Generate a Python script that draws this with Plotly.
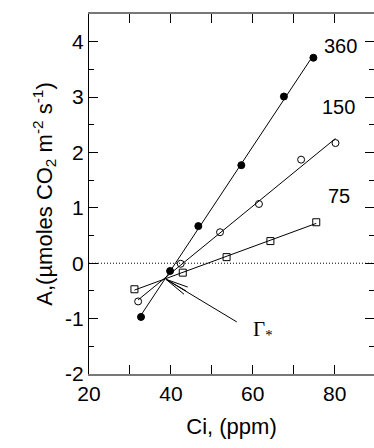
import numpy as np
import plotly.graph_objects as go

# Data
ci_360 = [32.7, 39.8, 46.7, 57.2, 67.6, 74.8]
a_360 = [-0.97, -0.14, 0.67, 1.77, 3.01, 3.71]
ci_150 = [32.0, 42.4, 52.0, 61.5, 71.8, 80.2]
a_150 = [-0.69, -0.01, 0.56, 1.07, 1.87, 2.17]
ci_75 = [31.1, 42.9, 53.6, 64.3, 75.5]
a_75 = [-0.47, -0.17, 0.11, 0.40, 0.74]

series_labels = ["360", "150", "75"]
label_x = [81.5, 81.0, 81.0]
label_y = [3.93, 2.82, 1.22]

x_tickvals = [20, 40, 60, 80]
x_ticktext = ["20", "40", "60", "80"]
y_tickvals = [-2, -1, 0, 1, 2, 3, 4]
y_ticktext = ["-2", "-1", "0", "1", "2", "3", "4"]

# Gamma* pointer (data coords)
gamma_origin = (38.8, -0.29)
gamma_ends_x = [56.1, 44.1, 43.7, 43.2]
gamma_ends_y = [-1.06, -0.43, -0.50, -0.56]

fig = go.Figure()

series = [
    (ci_360, a_360, dict(symbol="circle", color="black", size=7, line=dict(color="black", width=1))),
    (ci_150, a_150, dict(symbol="circle-open", color="black", size=7, line=dict(color="black", width=1))),
    (ci_75, a_75, dict(symbol="square-open", color="black", size=7, line=dict(color="black", width=1))),
]

for xs, ys, mk in series:
    p = np.polyfit(xs, ys, 1)
    xl = np.array([min(xs), max(xs)])
    fig.add_trace(go.Scatter(x=xl, y=np.polyval(p, xl), mode="lines",
                             line=dict(color="black", width=1), showlegend=False, hoverinfo="skip"))
    fig.add_trace(go.Scatter(x=xs, y=ys, mode="markers", marker=mk, showlegend=False))

# zero dotted line
fig.add_shape(type="line", xref="x", yref="y", x0=20, x1=90, y0=0, y1=0,
              line=dict(color="black", width=1, dash="1px,2px"))

for ex, ey in zip(gamma_ends_x, gamma_ends_y):
    fig.add_shape(type="line", xref="x", yref="y", x0=gamma_origin[0], y0=gamma_origin[1],
                  x1=ex, y1=ey, line=dict(color="black", width=1))

fig.add_annotation(x=59.6, y=-1.2, xref="x", yref="y", text="Γ<sub>*</sub>", showarrow=False,
                   font=dict(family="Liberation Serif", size=21, color="black"), xanchor="left")

for t, lx, ly in zip(series_labels, label_x, label_y):
    fig.add_annotation(x=lx, y=ly, xref="x", yref="y", text=t, showarrow=False,
                       font=dict(family="Liberation Sans", size=20, color="black"))

# invisible trace for right-side ticks axis
fig.add_trace(go.Scatter(x=[20], y=[0], yaxis="y2", mode="markers",
                         marker=dict(opacity=0), showlegend=False, hoverinfo="skip"))

font = dict(family="Liberation Sans", size=21, color="black")
fig.update_layout(
    width=374, height=448,
    margin=dict(l=89, r=0, t=14, b=74),
    paper_bgcolor="white", plot_bgcolor="white",
    font=font,
    xaxis=dict(range=[20, 89.6], tickvals=x_tickvals, ticktext=x_ticktext, ticks="inside", ticklen=9,
               tickcolor="black", showline=True, linecolor="#777", linewidth=2,
               mirror="allticks", showgrid=False, zeroline=False,
               minor=dict(tickvals=[30, 50, 70], ticks="inside", ticklen=6, tickcolor="black"),
               title=dict(text="Ci, (ppm)", font=dict(family="Liberation Sans", size=22, color="black"),
                          standoff=14), tickfont=font),
    yaxis=dict(range=[-2, 4.5], tickvals=y_tickvals, ticktext=y_ticktext, ticks="inside", ticklen=9,
               tickcolor="black", showline=True, linecolor="black", linewidth=1.2,
               showgrid=False, zeroline=False,
               minor=dict(tickvals=[-1.5, -0.5, 0.5, 1.5, 2.5, 3.5], ticks="inside", ticklen=5,
                          tickcolor="black"),
               title=dict(text="A,(µmoles CO<sub>2</sub> m<sup>-2</sup> s<sup>-1</sup>)",
                          font=dict(family="Liberation Sans", size=22, color="black"),
                          standoff=6), tickfont=font),
    yaxis2=dict(range=[-2, 4.5], overlaying="y", side="right", tickvals=y_tickvals,
                ticks="inside", ticklen=9, tickcolor="black", showticklabels=False,
                showline=False, showgrid=False, zeroline=False,
                minor=dict(tickvals=[-1.5, -0.5, 0.5, 1.5, 2.5, 3.5], ticks="inside", ticklen=5,
                           tickcolor="black")),
)

fig.write_html("out.html")
